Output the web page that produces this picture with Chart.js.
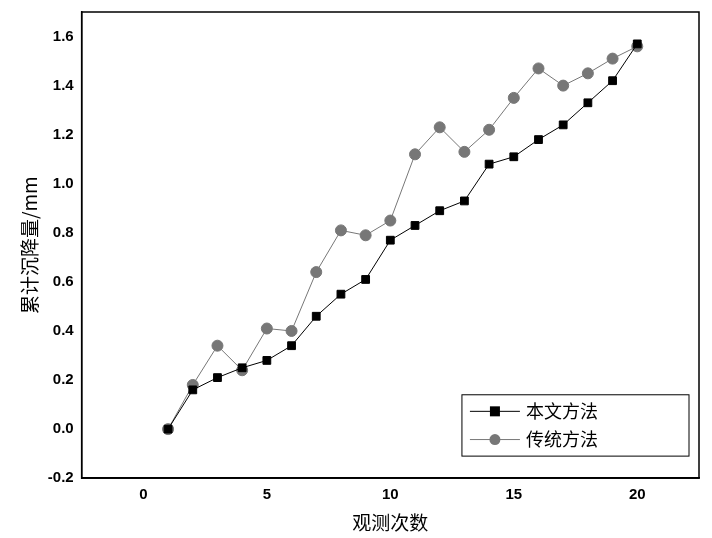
<!DOCTYPE html>
<html><head><meta charset="utf-8">
<script src="https://cdn.jsdelivr.net/npm/chart.js@4/dist/chart.umd.min.js"></script>
<style>html,body{margin:0;padding:0;background:#fff}#w{width:712px;height:538px}</style>
</head><body><div id="w"><canvas id="c"></canvas></div>
<script>
const xs=[1,2,3,4,5,6,7,8,9,10,11,12,13,14,15,16,17,18,19,20];
const seriesA=[0,0.16,0.21,0.25,0.28,0.34,0.46,0.55,0.61,0.77,0.83,0.89,0.93,1.08,1.11,1.18,1.24,1.33,1.42,1.57];
const seriesB=[0,0.18,0.34,0.24,0.41,0.40,0.64,0.81,0.79,0.85,1.12,1.23,1.13,1.22,1.35,1.47,1.40,1.45,1.51,1.56];
const names=['本文方法','传统方法'];
const xTicks=[0,5,10,15,20];
const frame={id:'frame',afterDraw(ch){const a=ch.chartArea,c=ch.ctx;c.save();c.strokeStyle='#000';c.lineWidth=1.5;c.strokeRect(a.left,a.top,a.right-a.left,a.bottom-a.top);
const x0=ch.scales.x.getPixelForValue(12.9),y0=ch.scales.y.getPixelForValue(0.14),w=a.right-x0-10,h=ch.scales.y.getPixelForValue(-0.11)-y0;
c.lineWidth=1;c.strokeRect(x0,y0,w,h);
const cols=['#000','#777'];c.font='18px "Noto Sans CJK SC"';c.textBaseline='middle';
for(let i=0;i<2;i++){const yy=y0+h*(0.27+0.46*i);c.strokeStyle=cols[i];c.beginPath();c.moveTo(x0+8,yy);c.lineTo(x0+58,yy);c.stroke();c.fillStyle=cols[i];
if(i==0)c.fillRect(x0+28,yy-5,10,10);else{c.beginPath();c.arc(x0+33,yy,5.5,0,7);c.fill();}
c.fillStyle='#000';c.fillText(names[i],x0+64,yy);}
c.restore();}};
new Chart(document.getElementById('c'),{type:'line',data:{datasets:[
{data:xs.map((x,i)=>({x,y:seriesA[i]})),borderColor:'#000',backgroundColor:'#000',borderWidth:1,pointStyle:'rect',pointRadius:5.5,tension:0},
{data:xs.map((x,i)=>({x,y:seriesB[i]})),borderColor:'#777',backgroundColor:'#777',borderWidth:1,pointStyle:'circle',pointRadius:5.5,tension:0}]},
options:{responsive:true,maintainAspectRatio:false,animation:false,layout:{padding:{top:12,right:13,left:14,bottom:0}},
plugins:{legend:{display:false},tooltip:{enabled:false}},
scales:{x:{type:'linear',min:-2.5,max:22.5,afterBuildTicks(s){s.ticks=xTicks.map(v=>({value:v}))},grid:{display:false,drawTicks:true,tickLength:5},border:{color:'#000',width:1.5},
ticks:{color:'#000',font:{family:'Liberation Sans',size:15,weight:'bold'}},title:{display:true,text:'观测次数',color:'#000',font:{family:'Noto Sans CJK SC',size:19}}},
y:{min:-0.2,max:1.7,afterBuildTicks(s){const t=[];for(let v=-0.2;v<=1.61;v+=0.2)t.push({value:Math.round(v*10)/10});s.ticks=t},grid:{display:false,tickLength:5},border:{color:'#000',width:1.5},
ticks:{color:'#000',font:{family:'Liberation Sans',size:15,weight:'bold'},callback:v=>v.toFixed(1)},title:{display:true,text:'累计沉降量/mm',color:'#000',font:{family:'Noto Sans CJK SC',size:19}}}}},
plugins:[frame]});
</script></body></html>
